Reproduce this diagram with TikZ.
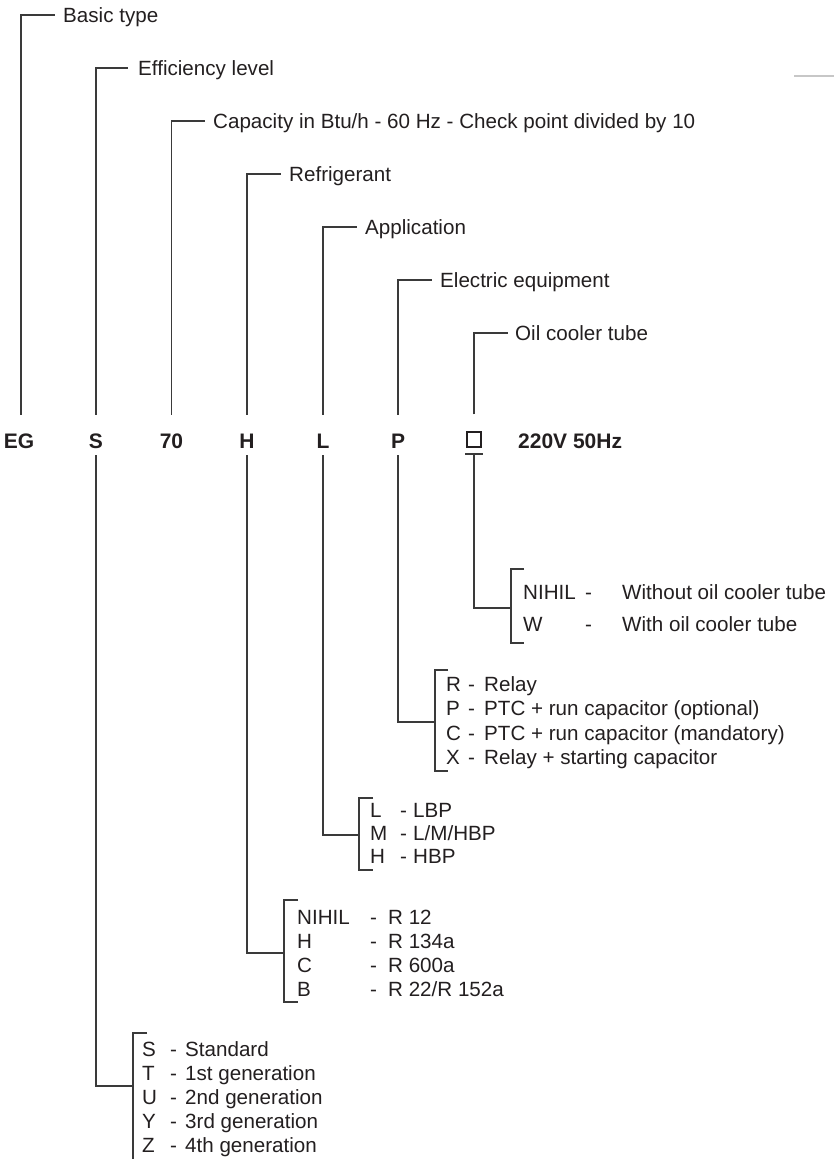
\documentclass[tikz,border=0pt]{standalone}
\usepackage{fontspec}
\setmainfont{Liberation Sans}
\definecolor{ink}{HTML}{231F20}
\definecolor{wire}{HTML}{3A3A3A}
\newcommand{\optline}[7]{%
  \node[opt] (#1a) at (#3,#2) {#4};
  \node[opt] (#1b) at (#5,#2) {-};
  \node[opt] (#1c) at (#6,#2) {#7};}
\begin{document}
\begin{tikzpicture}[x=1pt,y=-1pt,
  lab/.style={anchor=west,inner sep=0pt,text height=14.8pt,text depth=0pt,text=ink,font=\fontsize{20.6}{24}\selectfont},
  opt/.style={anchor=west,inner sep=0pt,text height=14.8pt,text depth=0pt,text=ink,font=\fontsize{20.6}{24}\selectfont},
  code/.style={anchor=base,inner sep=0pt,text height=15.2pt,text depth=0pt,text=ink,font=\fontsize{21}{25}\selectfont\bfseries},
  conn/.style={draw=wire,line width=1.3pt},
  brk/.style={draw=wire,line width=1.3pt}]
\useasboundingbox (0,0) rectangle (834,1159);
\fill[white] (0,0) rectangle (834,1159);

% stray gray rule at top right
\draw[line width=2.5pt,color=black!22] (794,76) -- (834,76);

% code row
\node[code] (cEG) at (19,448) {EG};
\node[code] (cS) at (96,448) {S};
\node[code] (c70) at (171.5,448) {70};
\node[code] (cH) at (247,448) {H};
\node[code] (cL) at (323,448) {L};
\node[code] (cP) at (398,448) {P};
\node[draw=ink,line width=1.6pt,minimum size=14.5pt,inner sep=0pt] (cBox) at (474,439.5) {};
\node[code,anchor=base west] (cV) at (518,448) {220V 50Hz};

% upper labels
\node[lab] (lBasic) at (63,15) {Basic type};
\node[lab] (lEff) at (138,68) {Efficiency level};
\node[lab] (lCap) at (213,121) {Capacity in Btu/h - 60 Hz - Check point divided by 10};
\node[lab] (lRef) at (289,174) {Refrigerant};
\node[lab] (lApp) at (365,227) {Application};
\node[lab] (lEl) at (440,280) {Electric equipment};
\node[lab] (lOil) at (515,333) {Oil cooler tube};

\draw[conn] ([yshift=17.8pt]cEG.north -| 21,0) |- ([xshift=-8pt]lBasic.west);
\draw[conn] ([yshift=17.8pt]cS.north) |- ([xshift=-10pt]lEff.west);
\draw[conn] ([yshift=17.8pt]c70.north) |- ([xshift=-8pt]lCap.west);
\draw[conn] ([yshift=17.8pt]cH.north) |- ([xshift=-8pt]lRef.west);
\draw[conn] ([yshift=17.8pt]cL.north) |- ([xshift=-8pt]lApp.west);
\draw[conn] ([yshift=17.8pt]cP.north) |- ([xshift=-8pt]lEl.west);
\draw[conn] ([yshift=17pt]cBox.north) |- ([xshift=-7pt]lOil.west);

% oil cooler options
\coordinate (jOil) at (511,608);
\draw[conn] (465,454) -- (483,454);
\draw[conn] ([yshift=-7pt]cBox.south) |- (jOil);
\draw[brk] (524,569) -- (511,569) -- (511,643) -- (524,643);
\optline{oA}{592}{523}{NIHIL}{585}{622}{Without oil cooler tube}
\optline{oB}{624}{523}{W}{585}{622}{With oil cooler tube}

% electric equipment options
\coordinate (jEl) at (435,722);
\draw[conn] ([yshift=-7pt]cP.south) |- (jEl);
\draw[brk] (448,670) -- (435,670) -- (435,771) -- (448,771);
\optline{eA}{683.6}{446}{R}{468}{484}{Relay}
\optline{eB}{708}{446}{P}{468}{484}{PTC + run capacitor (optional)}
\optline{eC}{732.6}{446}{C}{468}{484}{PTC + run capacitor (mandatory)}
\optline{eD}{757}{446}{X}{468}{484}{Relay + starting capacitor}

% application options
\coordinate (jApp) at (359,835);
\draw[conn] ([yshift=-7pt]cL.south) |- (jApp);
\draw[brk] (373,798) -- (359,798) -- (359,870) -- (373,870);
\optline{aA}{809.6}{370}{L}{400}{413}{LBP}
\optline{aB}{832.6}{370}{M}{400}{413}{L/M/HBP}
\optline{aC}{855.6}{370}{H}{400}{413}{HBP}

% refrigerant options
\coordinate (jRef) at (284,953);
\draw[conn] ([yshift=-7pt]cH.south) |- (jRef);
\draw[brk] (298,900) -- (284,900) -- (284,1002) -- (298,1002);
\optline{rA}{916.6}{297}{NIHIL}{370}{388}{R 12}
\optline{rB}{940.6}{297}{H}{370}{388}{R 134a}
\optline{rC}{964.6}{297}{C}{370}{388}{R 600a}
\optline{rD}{988.6}{297}{B}{370}{388}{R 22/R 152a}

% efficiency options
\coordinate (jEff) at (133,1086);
\draw[conn] ([yshift=-7pt]cS.south) |- (jEff);
\draw[brk] (147,1033) -- (133,1033) -- (133,1160);
\optline{sA}{1048.6}{142}{S}{170}{185}{Standard}
\optline{sB}{1072.6}{142}{T}{170}{185}{1st generation}
\optline{sC}{1096.6}{142}{U}{170}{185}{2nd generation}
\optline{sD}{1120.6}{142}{Y}{170}{185}{3rd generation}
\optline{sE}{1144.6}{142}{Z}{170}{185}{4th generation}
\end{tikzpicture}
\end{document}
